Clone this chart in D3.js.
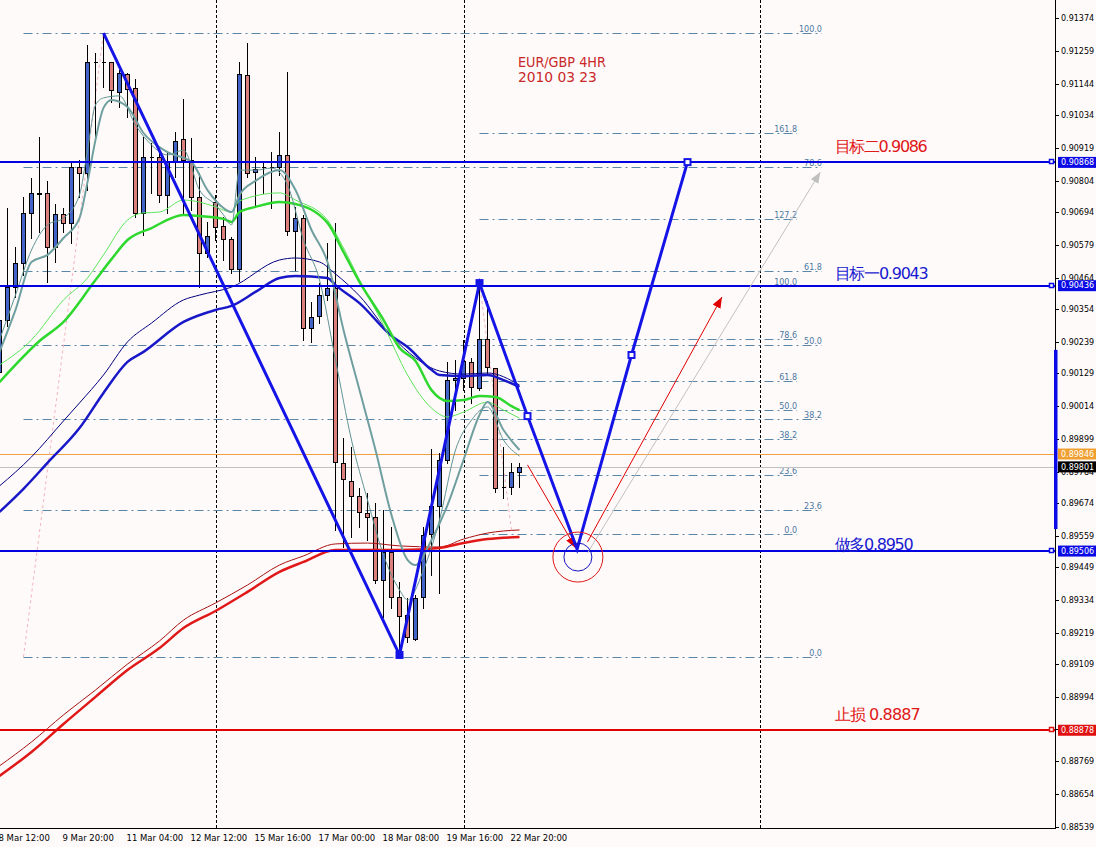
<!DOCTYPE html>
<html><head><meta charset="utf-8">
<script src="https://cdn.jsdelivr.net/npm/d3@7/dist/d3.min.js"></script>
<style>
html,body{margin:0;padding:0;background:#fffafa;}
svg{display:block;}
text{font-family:"DejaVu Sans",sans-serif;}
</style></head>
<body><svg id="chart" width="1096" height="847"></svg>
<script>
// ================= DATA =================
const firstBar = -1; // bar index of first candle (8 Mar 12:00)
const opens  = [0.90134,0.90316,0.90431,0.90515,0.90691,0.90761,0.90761,0.90572,0.90687,0.90656,0.90852,0.90831,0.91220,0.91220,0.91220,0.91115,0.91178,0.91129,0.90691,0.90887,0.90887,0.90754,0.90869,0.90950,0.90876,0.90747,0.90551,0.90729,0.90645,0.90600,0.90494,0.91174,0.90834,0.90852,0.90852,0.90852,0.90894,0.90628,0.90673,0.90288,0.90330,0.90403,0.90428,0.89815,0.89752,0.89699,0.89639,0.89625,0.89405,0.89503,0.89345,0.89282,0.89198,0.89345,0.89566,0.89664,0.89825,0.90105,0.90112,0.90169,0.90077,0.90249,0.90148,0.89730,0.89730,0.89783];
const highs  = [0.90421,0.90708,0.90572,0.90747,0.90813,0.90957,0.90803,0.90722,0.90708,0.90866,0.90876,0.91279,0.91251,0.91321,0.91220,0.91192,0.91181,0.91160,0.90957,0.90936,0.90904,0.90901,0.90975,0.91090,0.90954,0.90831,0.90659,0.90754,0.90677,0.90607,0.91220,0.91286,0.90887,0.90866,0.90904,0.90975,0.91185,0.90712,0.90684,0.90379,0.90445,0.90586,0.90656,0.89902,0.89871,0.89727,0.89709,0.89674,0.89650,0.89590,0.89398,0.89342,0.89352,0.89590,0.89864,0.89850,0.90169,0.90176,0.90246,0.90183,0.90445,0.90382,0.90148,0.89871,0.89815,0.89815];
const lows   = [0.90112,0.90295,0.90396,0.90473,0.90603,0.90624,0.90449,0.90519,0.90624,0.90586,0.90747,0.90771,0.90947,0.91132,0.91080,0.91062,0.91027,0.90677,0.90614,0.90761,0.90729,0.90691,0.90817,0.90691,0.90701,0.90431,0.90536,0.90596,0.90526,0.90480,0.90452,0.90817,0.90719,0.90761,0.90708,0.90824,0.90614,0.90491,0.90246,0.90239,0.90305,0.90386,0.89580,0.89520,0.89555,0.89590,0.89545,0.89394,0.89275,0.89306,0.89142,0.89187,0.89194,0.89306,0.89422,0.89359,0.89815,0.90000,0.90070,0.90025,0.90070,0.90130,0.89713,0.89692,0.89706,0.89730];
const closes = [0.90316,0.90431,0.90515,0.90691,0.90761,0.90757,0.90572,0.90687,0.90656,0.90852,0.90831,0.91220,0.91220,0.91220,0.91122,0.91181,0.91125,0.90691,0.90887,0.90887,0.90754,0.90869,0.90943,0.90876,0.90747,0.90551,0.90610,0.90642,0.90600,0.90494,0.91178,0.90831,0.90845,0.90852,0.90852,0.90894,0.90628,0.90673,0.90288,0.90326,0.90403,0.90428,0.89818,0.89759,0.89699,0.89643,0.89625,0.89405,0.89503,0.89345,0.89278,0.89205,0.89342,0.89562,0.89664,0.89825,0.90105,0.90112,0.90172,0.90081,0.90249,0.90151,0.89727,0.89730,0.89783,0.89801];

// moving averages: [bar index, price]
const maBlueThick = [[-1,0.89643],[2,0.89724],[5,0.89815],[9,0.89937],[12,0.90060],[15,0.90169],[17,0.90204],[22,0.90309],[26,0.90351],[28,0.90365],[31,0.90414],[34,0.90463],[36,0.90470],[40,0.90463],[41,0.90438],[44,0.90375],[48,0.90260],[50,0.90221],[53,0.90141],[54,0.90123],[57,0.90119],[60,0.90123],[62,0.90105],[64,0.90081]];
const maNavyThin  = [[-1,0.89734],[3,0.89836],[7,0.89962],[9,0.90025],[12,0.90123],[15,0.90239],[18,0.90305],[22,0.90386],[24,0.90403],[28,0.90431],[34,0.90526],[36,0.90533],[39,0.90519],[41,0.90477],[44,0.90400],[48,0.90260],[51,0.90183],[54,0.90137],[57,0.90126],[60,0.90130],[64,0.90088]];
const maGreenThick = [[-1,0.90098],[4,0.90242],[7,0.90309],[11,0.90456],[13,0.90529],[15,0.90596],[18,0.90638],[22,0.90684],[24,0.90680],[27,0.90670],[28,0.90659],[29,0.90694],[31,0.90712],[34,0.90729],[36,0.90722],[40,0.90656],[42,0.90554],[44,0.90449],[47,0.90316],[49,0.90218],[51,0.90172],[53,0.90070],[55,0.90032],[57,0.90035],[59,0.90049],[61,0.90046],[63,0.90014],[64,0.90000]];
const maGreenThin = [[-1,0.90158],[3,0.90246],[7,0.90386],[10,0.90463],[12,0.90544],[15,0.90666],[17,0.90691],[19,0.90694],[22,0.90736],[24,0.90729],[26,0.90712],[28,0.90694],[29,0.90733],[34,0.90761],[36,0.90736],[40,0.90666],[42,0.90568],[44,0.90456],[47,0.90298],[50,0.90123],[53,0.90007],[55,0.89976],[57,0.89993],[60,0.90028],[62,0.90000],[64,0.89972]];
const maTealThick = [[-1,0.90204],[1,0.90351],[3,0.90519],[5,0.90544],[7,0.90603],[9,0.90673],[10,0.90799],[11,0.90947],[12,0.91059],[13,0.91087],[15,0.91062],[17,0.90971],[20,0.90904],[23,0.90869],[25,0.90771],[27,0.90708],[28,0.90694],[29,0.90754],[31,0.90803],[34,0.90841],[36,0.90771],[38,0.90631],[40,0.90519],[42,0.90281],[44,0.90070],[46,0.89860],[48,0.89632],[50,0.89475],[51,0.89457],[53,0.89545],[55,0.89667],[57,0.89825],[59,0.89983],[60,0.90028],[62,0.89930],[64,0.89860]];
const maTealThin = [[-1,0.90246],[1,0.90403],[3,0.90561],[5,0.90649],[7,0.90673],[9,0.90754],[10,0.90911],[11,0.91069],[12,0.91094],[14,0.91101],[16,0.90999],[18,0.90929],[20,0.90894],[22,0.90911],[24,0.90771],[26,0.90719],[27,0.90684],[28,0.90649],[29,0.90841],[31,0.90841],[33,0.90848],[35,0.90789],[37,0.90596],[39,0.90456],[41,0.90176],[43,0.89895],[45,0.89685],[47,0.89492],[49,0.89370],[50,0.89335],[52,0.89440],[54,0.89615],[56,0.89860],[58,0.89965],[60,0.90011],[62,0.89895],[64,0.89839]];
const maRedThick = [[-1,0.88718],[3,0.88802],[7,0.88900],[11,0.88995],[15,0.89089],[19,0.89166],[22,0.89236],[26,0.89296],[30,0.89363],[34,0.89433],[37,0.89468],[41,0.89510],[45,0.89510],[49,0.89510],[54,0.89517],[57,0.89534],[60,0.89548],[64,0.89555]];
const maRedThin = [[-1,0.88753],[3,0.88837],[7,0.88932],[11,0.89019],[15,0.89110],[19,0.89191],[22,0.89264],[26,0.89324],[30,0.89387],[34,0.89457],[37,0.89489],[41,0.89531],[45,0.89534],[49,0.89524],[54,0.89520],[57,0.89548],[60,0.89569],[64,0.89580]];

// Fibonacci tools
const fib1Levels = [0, 23.6, 38.2, 50, 61.8, 78.6, 100];
const fib1Prices = [0.89135, 0.91321];   // 0% , 100%
const fib1Bars   = [2, 101.8];
const fib2Levels = [0, 23.6, 38.2, 50, 61.8, 78.6, 100, 127.2, 161.8];
const fib2Prices = [0.89566, 0.90435];
const fib2Bars   = [59, 98.7];

// horizontal lines
const targetPrices = [0.90868, 0.90436, 0.89506]; // blue
const stopPrice = 0.88878;                         // red
const askPrice = 0.89846;                          // orange
const bidPrice = 0.89801;                          // grey

// zigzag pattern (thick blue)
const zigBars   = [12, 49, 59, 65, 71.2, 78, 85];
const zigPrices = [0.91321, 0.89142, 0.90445, 0.89979, 0.89513, 0.90193, 0.90869];
const zigMarkIdx = [1, 2, 3, 5, 6];
// faint zigzag indicator (pink dashed)
const pinkSegs = [[[2,0.89135],[12,0.91321]], [[59,0.90445],[63,0.89580]]];

// arrows [fromBar, fromPrice, toBar, toPrice]
const redArrows = [[65,0.89808,71,0.89517],[72.5,0.89538,89.3,0.90396]];
const greyArrows = [[72.5,0.89499,101.6,0.90834]];
const circleCenter = [71.3, 0.89485];

// vertical period separators
const sepBars = [26, 57, 94.06];

// axis ticks
const xTickBars = [-1, 7, 15, 23, 31, 39, 47, 55, 63];
const xTickLabels = ["8 Mar 12:00","9 Mar 20:00","11 Mar 04:00","12 Mar 12:00","15 Mar 16:00","17 Mar 00:00","18 Mar 08:00","19 Mar 16:00","22 Mar 20:00"];
const yTickValues = [0.91374,0.91259,0.91144,0.91034,0.90919,0.90804,0.90694,0.90579,0.90464,0.90354,0.90239,0.90129,0.90014,0.89899,0.89784,0.89674,0.89559,0.89449,0.89334,0.89219,0.89109,0.88994,0.88884,0.88769,0.88654,0.88539];
const axisBarPrices = [0.89583, 0.90211];

// text annotations
const titleLines = ["EUR/GBP 4HR", "2010 03 23"];
const titleAnchor = [[63.8, 0.91204], [63.8, 0.91150]];
const noteTexts = ["目标二0.9086", "目标一0.9043", "做多0.8950", "止损 0.8887"];
const noteAnchor = [[103.4, 0.90904], [103.4, 0.90459], [103.4, 0.89510], [103.4, 0.88914]];

// ================= DRAW =================
const PR = 1055, PB = 828;
const svg = d3.select('#chart');
svg.append('rect').attr('width',1096).attr('height',847).attr('fill','#fffafa');
const x = d3.scaleLinear().domain([-1, 64]).range([-0.5, 519.5]);
const y = d3.scaleLinear().domain([0.88539, 0.91374]).range([827, 18]);
const defs = svg.append('defs');
defs.append('clipPath').attr('id','plot').append('rect').attr('x',0).attr('y',0).attr('width',PR).attr('height',PB);
function mk(id,color){
  defs.append('marker').attr('id',id).attr('viewBox','0 0 10 10').attr('refX',10).attr('refY',5)
    .attr('markerWidth',11).attr('markerHeight',11).attr('markerUnits','userSpaceOnUse').attr('orient','auto')
    .append('path').attr('d','M0,1L10,5L0,9Z').attr('fill',color);
}
mk('arrRed','#e00000'); mk('arrGrey','#c0c0c0');

const g = svg.append('g').attr('clip-path','url(#plot)');
const py = p => Math.round(y(p)) + 0.5;

// separators
g.selectAll('line.sep').data(sepBars).join('line')
  .attr('x1',d=>Math.round(x(d))+0.5).attr('x2',d=>Math.round(x(d))+0.5)
  .attr('y1',0).attr('y2',PB).attr('stroke','#000').attr('stroke-dasharray','3,2');

// fib
function drawFib(levels, prices, bars){
  const fg = g.append('g');
  levels.forEach(l=>{
    const p = prices[0] + (prices[1]-prices[0])*l/100;
    const yy = py(p);
    fg.append('line').attr('x1',x(bars[0])).attr('x2',x(bars[1])).attr('y1',yy).attr('y2',yy)
      .attr('stroke','#5a86a8').attr('stroke-dasharray','9,4,2,4');
    fg.append('text').attr('x',x(bars[1])).attr('y',yy-1.5).attr('text-anchor','end')
      .attr('font-size','8px').attr('fill','#4a78a0').text(l.toFixed(1));
  });
}
drawFib(fib1Levels, fib1Prices, fib1Bars);
drawFib(fib2Levels, fib2Prices, fib2Bars);

// ask / bid lines
g.append('line').attr('x1',0).attr('x2',PR).attr('y1',py(askPrice)).attr('y2',py(askPrice)).attr('stroke','#f0a040');
g.append('line').attr('x1',0).attr('x2',PR).attr('y1',py(bidPrice)).attr('y2',py(bidPrice)).attr('stroke','#c0c0c0');

// pink zigzag
g.selectAll('path.pink').data(pinkSegs).join('path')
  .attr('d',d=>d3.line().x(p=>x(p[0])).y(p=>y(p[1]))(d))
  .attr('fill','none').attr('stroke','#f2b4bc').attr('stroke-dasharray','3,3');

// candles
const bars = opens.map((o,i)=>({i:firstBar+i,o,h:highs[i],l:lows[i],c:closes[i]}));
const cg = g.append('g').attr('shape-rendering','crispEdges');
bars.forEach(b=>{
  const cx = x(b.i);
  cg.append('line').attr('x1',cx).attr('x2',cx).attr('y1',Math.round(y(b.h))).attr('y2',Math.round(y(b.l))+1).attr('stroke','#000');
  const top = py(Math.max(b.o,b.c)), bot = py(Math.min(b.o,b.c));
  const fill = b.c>b.o ? '#4264c8' : (b.c<b.o ? '#db807a' : 'none');
  cg.append('path').attr('d',`M${cx-2},${top}H${cx+2}V${bot}H${cx-2}Z`).attr('fill',fill).attr('stroke','#000');
});

// moving averages
const line = d3.line().x(d=>x(d[0])).y(d=>y(d[1])).curve(d3.curveMonotoneX);
const mas = [
  [maRedThin,'#a81010',1],[maRedThick,'#e01818',2.5],
  [maNavyThin,'#000080',1],[maBlueThick,'#1818c8',2.5],
  [maGreenThin,'#5ae65a',1],[maGreenThick,'#2ed82e',2.5],
  [maTealThin,'#5f9494',1],[maTealThick,'#6f9f9f',2]
];
mas.forEach(([data,color,w])=>{
  g.append('path').attr('d',line(data)).attr('fill','none').attr('stroke',color).attr('stroke-width',w);
});

// horizontal target lines
targetPrices.forEach(p=>{
  g.append('line').attr('x1',0).attr('x2',PR).attr('y1',Math.round(y(p))).attr('y2',Math.round(y(p)))
   .attr('stroke','#0000e0').attr('stroke-width',2);
});
g.append('line').attr('x1',0).attr('x2',PR).attr('y1',Math.round(y(stopPrice))).attr('y2',Math.round(y(stopPrice)))
 .attr('stroke','#e00000').attr('stroke-width',2);

// arrows
redArrows.forEach(a=>{
  g.append('line').attr('x1',x(a[0])).attr('y1',y(a[1])).attr('x2',x(a[2])).attr('y2',y(a[3]))
   .attr('stroke','#e00000').attr('stroke-width',1).attr('marker-end','url(#arrRed)');
});
greyArrows.forEach(a=>{
  g.append('line').attr('x1',x(a[0])).attr('y1',y(a[1])).attr('x2',x(a[2])).attr('y2',y(a[3]))
   .attr('stroke','#c0c0c0').attr('stroke-width',1).attr('marker-end','url(#arrGrey)');
});

// zigzag
const zig = zigBars.map((b,i)=>[b,zigPrices[i]]);
g.append('path').attr('d',d3.line().x(d=>x(d[0])).y(d=>y(d[1]))(zig))
  .attr('fill','none').attr('stroke','#1414e6').attr('stroke-width',3).attr('stroke-linejoin','miter');
zigMarkIdx.forEach(i=>{
  g.append('rect').attr('x',x(zig[i][0])-3).attr('y',y(zig[i][1])-3).attr('width',6).attr('height',6)
   .attr('fill', i<=2 ? '#1414e6' : '#ffffff').attr('stroke','#1414e6').attr('stroke-width',2);
});

// circles
g.append('circle').attr('cx',x(circleCenter[0])).attr('cy',y(circleCenter[1])).attr('r',25)
  .attr('fill','none').attr('stroke','#e01818').attr('stroke-width',1);
g.append('circle').attr('cx',x(circleCenter[0])).attr('cy',y(circleCenter[1])).attr('r',14)
  .attr('fill','none').attr('stroke','#1414c0').attr('stroke-width',1);

// title text
titleLines.forEach((t,i)=>{
  g.append('text').attr('x',x(titleAnchor[i][0])).attr('y',y(titleAnchor[i][1]))
   .attr('font-family','"Liberation Serif",serif').attr('font-size','14px').attr('fill','#c82828')
   .attr('textLength', i===0?88:79).attr('lengthAdjust','spacingAndGlyphs').text(t);
});
const noteColors = ['#e01818','#1a1ad0','#1a1ad0','#e01818'];
const noteWidths = [93, 94, 79, 86];
noteTexts.forEach((t,i)=>{
  g.append('text').attr('x',x(noteAnchor[i][0])).attr('y',y(noteAnchor[i][1]))
   .attr('font-family','"Noto Sans CJK SC",sans-serif').attr('font-size','16px').attr('fill',noteColors[i])
   .attr('textLength',noteWidths[i]).text(t);
});

// ===== axes =====
const ax = svg.append('g');
ax.append('line').attr('x1',PR+0.5).attr('x2',PR+0.5).attr('y1',0).attr('y2',PB+1).attr('stroke','#000');
ax.append('line').attr('x1',0).attr('x2',PR+1).attr('y1',PB+0.5).attr('y2',PB+0.5).attr('stroke','#000');
yTickValues.forEach(v=>{
  const yy = py(v);
  ax.append('line').attr('x1',PR).attr('x2',PR+4).attr('y1',yy).attr('y2',yy).attr('stroke','#000');
  ax.append('text').attr('x',1061).attr('y',yy).attr('dy','0.35em').attr('font-size','8px')
    .attr('fill','#000').text(v.toFixed(5));
});
xTickBars.forEach((b,i)=>{
  ax.append('text').attr('x',x(b)-1).attr('y',841).attr('font-size','8.5px').attr('fill','#000').text(xTickLabels[i]);
});
// axis indicator bar
ax.append('rect').attr('x',1054).attr('y',y(axisBarPrices[1])).attr('width',3.5)
  .attr('height',y(axisBarPrices[0])-y(axisBarPrices[1])).attr('fill','#0a0ae6');

// highlighted price labels
const hl = [[targetPrices[0],'#0a0ae6','#0a0ae6'],[targetPrices[1],'#0a0ae6','#0a0ae6'],[askPrice,'#f0a030',null],[bidPrice,'#000000',null],[targetPrices[2],'#0a0ae6','#0a0ae6'],[stopPrice,'#e01010','#e01010']];
hl.forEach(([p,bg,mark])=>{
  const yy = y(p);
  ax.append('rect').attr('x',1058).attr('y',yy-5.5).attr('width',38).attr('height',11).attr('fill',bg);
  ax.append('text').attr('x',1061).attr('y',yy).attr('dy','0.35em').attr('font-size','8px')
    .attr('fill','#fff').text(p.toFixed(5));
  if(mark){
    ax.append('rect').attr('x',1049.5).attr('y',Math.round(yy)-2.5).attr('width',4).attr('height',4)
      .attr('fill','#fff').attr('stroke',mark).attr('stroke-width',1.5);
  }
});
</script>
</body></html>
